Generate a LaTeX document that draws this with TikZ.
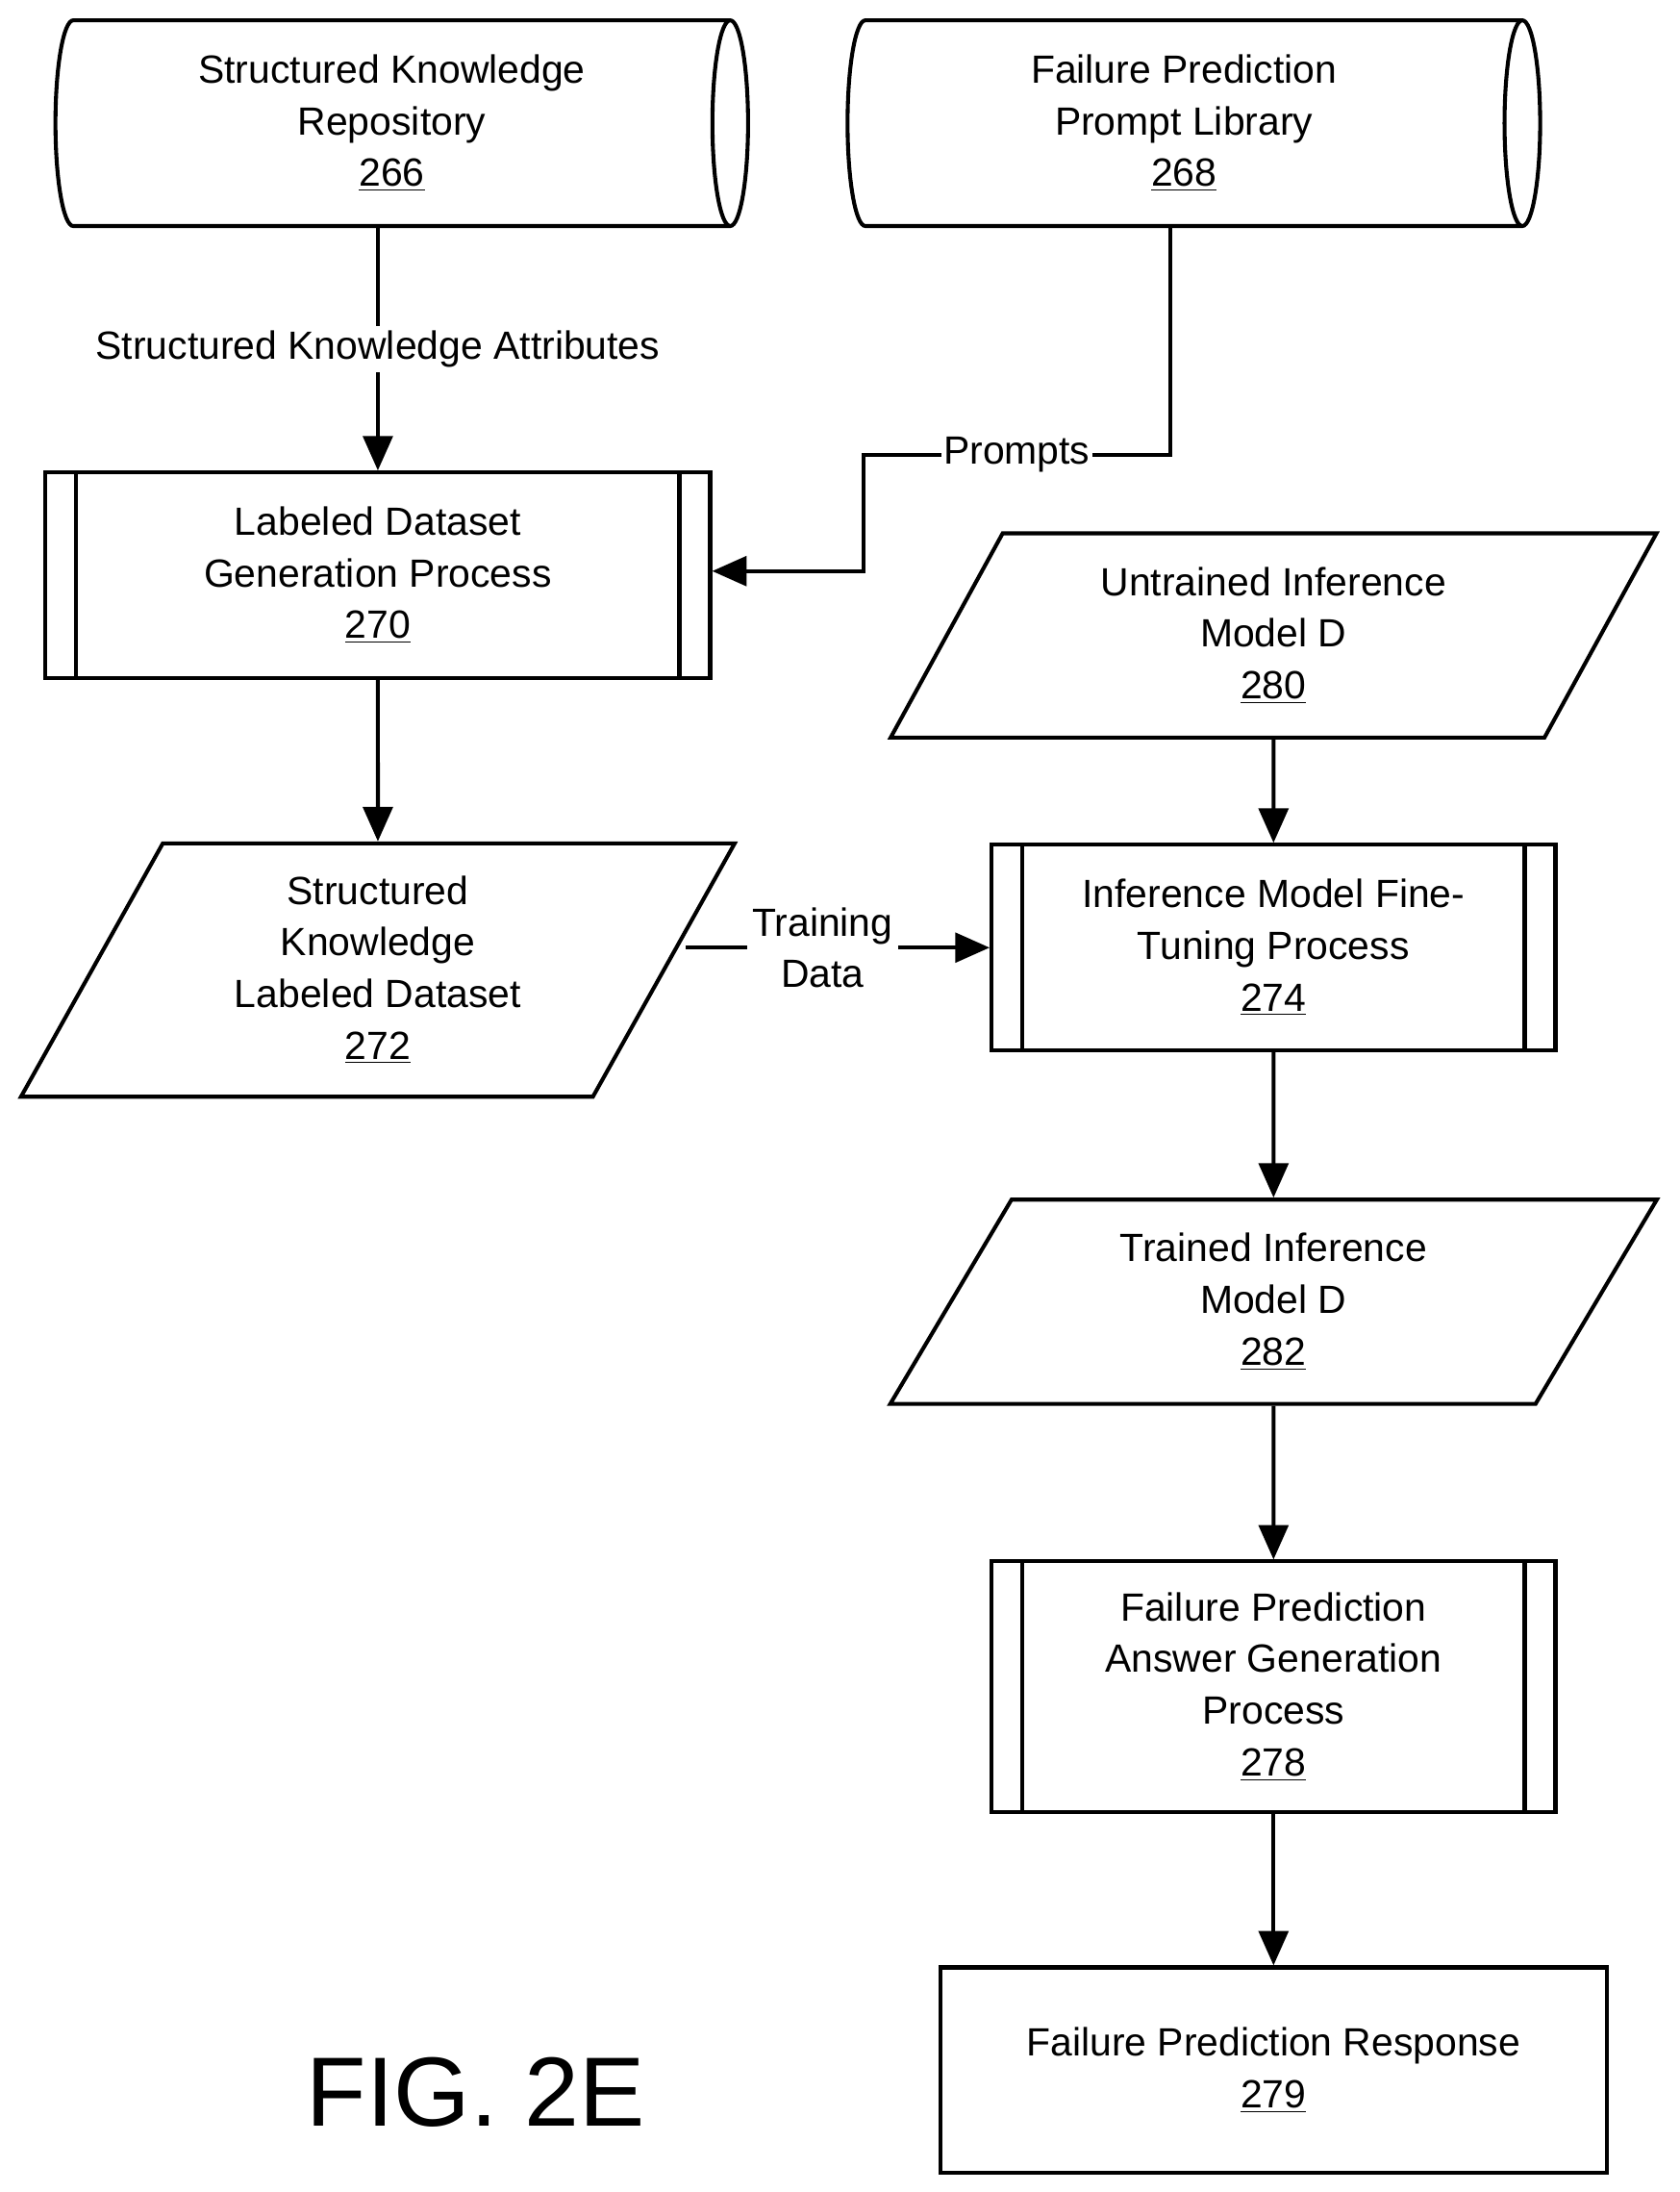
\documentclass[tikz,border=0pt]{standalone}
\usepackage{fontspec}
\setmainfont{Liberation Sans}
\usetikzlibrary{shapes.geometric, arrows.meta, positioning}

\tikzset{
  every node/.style={font=\fontsize{16}{21}\selectfont, align=center},
  line/.style={line width=1.6pt},
  arrow/.style={line, -{Triangle[length=14pt, width=12pt]}},
  store/.style={cylinder, draw, line, shape aspect=0.26, minimum width=2.94cm, minimum height=9.9cm, inner sep=0pt},
  data/.style={trapezium, draw, line, trapezium left angle=64, trapezium right angle=116, trapezium stretches=true, minimum height=#1},
  proc/.style={rectangle, draw, line, minimum width=8.06cm, minimum height=2.94cm,
    path picture={
      \draw[line] ([xshift=0.44cm]path picture bounding box.north west) -- ([xshift=0.44cm]path picture bounding box.south west);
      \draw[line] ([xshift=-0.44cm]path picture bounding box.north east) -- ([xshift=-0.44cm]path picture bounding box.south east);
    }},
  lbl/.style={fill=white, inner sep=2pt}
}

\begin{document}
\begin{tikzpicture}[x=0.02cm, y=-0.02cm]
  \useasboundingbox (0,0) rectangle (1200,1566);

  % stores
  \node[store] (266) at (280,88) {Structured Knowledge\\Repository\\\underline{266}};
  \node[store] (268) at (846,88) {Failure Prediction\\Prompt Library\\\underline{268}};

  % left column
  \node[proc, minimum width=9.5cm] (270) at (270,411) {Labeled Dataset\\Generation Process\\\underline{270}};
  \node[data=3.62cm, minimum width=10.22cm] (272) at (270,693) {Structured\\Knowledge\\Labeled Dataset\\\underline{272}};

  % right column
  \node[data=2.92cm, minimum width=10.98cm] (280) at (910,454) {Untrained Inference\\Model D\\\underline{280}};
  \node[proc] (274) at (910,677) {Inference Model Fine-\\Tuning Process\\\underline{274}};
  \node[data=2.92cm, minimum width=10.98cm] (282) at (910,930) {Trained Inference\\Model D\\\underline{282}};
  \node[proc, minimum height=3.58cm] (278) at (910,1205) {Failure Prediction\\Answer Generation\\Process\\\underline{278}};
  \node[rectangle, draw, line, minimum width=9.52cm, minimum height=2.94cm] (279) at (910,1479) {Failure Prediction Response\\\underline{279}};

  \node[font=\fontsize{40}{48}\selectfont] (fig) at (340,1495) {FIG. 2E};

  % connectors
  \draw[arrow] (266.south -| 270.north) -- node[lbl] {Structured Knowledge Attributes} (270.north);
  \coordinate (p1) at (836,325);
  \coordinate (p2) at (617,325);
  \coordinate (p3) at (617,408);
  \draw[arrow] (268.south -| p1) -- (p1) -- node[lbl, inner sep=1pt] {Prompts} (p2) -- (p3) -- (p3 -| 270.east);
  \draw[arrow] (270) -- (272);
  \coordinate (t1) at (490,677);
  \draw[arrow] (t1) -- node[lbl, pos=0.45] {Training\\Data} (274.west);
  \draw[arrow] (280) -- (274);
  \draw[arrow] (274) -- (282);
  \draw[arrow] (282) -- (278);
  \draw[arrow] (278) -- (279);
\end{tikzpicture}
\end{document}
